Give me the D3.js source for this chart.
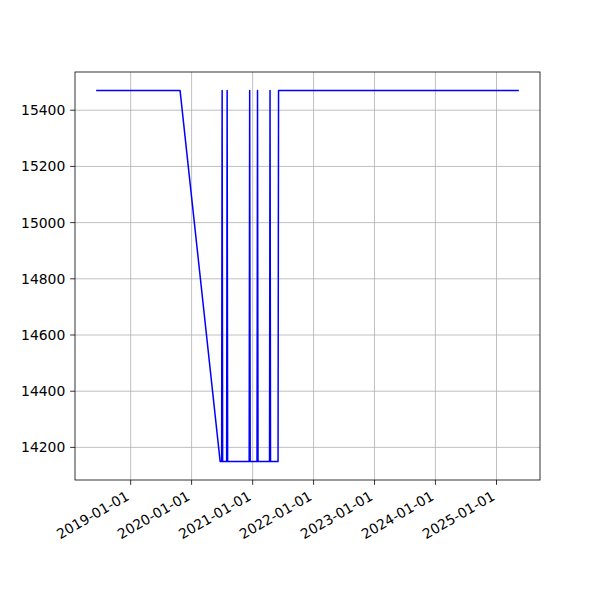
<!DOCTYPE html>
<html><head><meta charset="utf-8">
<script src="https://cdn.jsdelivr.net/npm/d3@7"></script>
<style>body{margin:0;background:#fff}svg{display:block}</style>
</head><body><svg id="c" width="600" height="600"></svg>
<script>
const dates = ["2018-06-08","2019-10-24","2020-06-20",
  "2020-06-29","2020-07-02","2020-07-05",
  "2020-07-29","2020-08-01","2020-08-04",
  "2020-12-11","2020-12-14","2020-12-17",
  "2021-01-27","2021-01-30","2021-02-02",
  "2021-04-12","2021-04-15","2021-04-18",
  "2021-06-02","2021-06-05","2025-05-15"];
const values = [15470,15470,14150,
  14150,15470,14150,
  14150,15470,14150,
  14150,15470,14150,
  14150,15470,14150,
  14150,15470,14150,
  14150,15470,15470];
const xTickLabels = ["2019-01-01","2020-01-01","2021-01-01","2022-01-01","2023-01-01","2024-01-01","2025-01-01"];
const yTicks = [14200,14400,14600,14800,15000,15200,15400];

const parse = d3.timeParse("%Y-%m-%d");
const pts = dates.map((d,i)=>({t:parse(d), v:values[i]}));
const L=75,R=540,T=72,B=480;
const svg = d3.select("#c");
const tExt = d3.extent(pts,d=>d.t);
const span = tExt[1]-tExt[0];
const x = d3.scaleTime().domain([new Date(+tExt[0]-span*0.05), new Date(+tExt[1]+span*0.05)]).range([L,R]);
const vExt = d3.extent(values);
const vs = vExt[1]-vExt[0];
const y = d3.scaleLinear().domain([vExt[0]-vs*0.05, vExt[1]+vs*0.05]).range([B,T]);
const font = "DejaVu Sans, sans-serif";
const fs = 13.9;
const tl = 4.86;

// grid
const xt = xTickLabels.map(parse);
svg.append("g").selectAll("line").data(xt).join("line")
  .attr("x1",d=>x(d)).attr("x2",d=>x(d)).attr("y1",T).attr("y2",B)
  .attr("stroke","#b0b0b0").attr("stroke-width",0.8);
svg.append("g").selectAll("line").data(yTicks).join("line")
  .attr("x1",L).attr("x2",R).attr("y1",d=>y(d)).attr("y2",d=>y(d))
  .attr("stroke","#b0b0b0").attr("stroke-width",0.8);

// line
svg.append("path").datum(pts)
  .attr("d", d3.line().x(d=>x(d.t)).y(d=>y(d.v)))
  .attr("fill","none").attr("stroke","#0000ff").attr("stroke-width",1.5)
  .attr("stroke-linejoin","round").attr("stroke-linecap","butt");

// spines
svg.append("rect").attr("x",L).attr("y",T).attr("width",R-L).attr("height",B-T)
  .attr("fill","none").attr("stroke","#000").attr("stroke-width",0.8);

// x ticks
const gx = svg.append("g");
xt.forEach((d,i)=>{
  const px = x(d);
  gx.append("line").attr("x1",px).attr("x2",px).attr("y1",B).attr("y2",B+tl)
    .attr("stroke","#000").attr("stroke-width",0.8);
  gx.append("text").attr("transform",`translate(${px-0.6},${B+tl+4.86+9.3}) rotate(-30)`)
    .attr("text-anchor","end").attr("font-family",font).attr("font-size",fs)
    .attr("fill","#000").text(xTickLabels[i]);
});
// y ticks
const gy = svg.append("g");
yTicks.forEach(v=>{
  const py = y(v);
  gy.append("line").attr("x1",L-tl).attr("x2",L).attr("y1",py).attr("y2",py)
    .attr("stroke","#000").attr("stroke-width",0.8);
  gy.append("text").attr("x",L-tl-4.86).attr("y",py).attr("dy","0.36em")
    .attr("text-anchor","end").attr("font-family",font).attr("font-size",fs)
    .attr("fill","#000").text(v);
});
</script></body></html>
